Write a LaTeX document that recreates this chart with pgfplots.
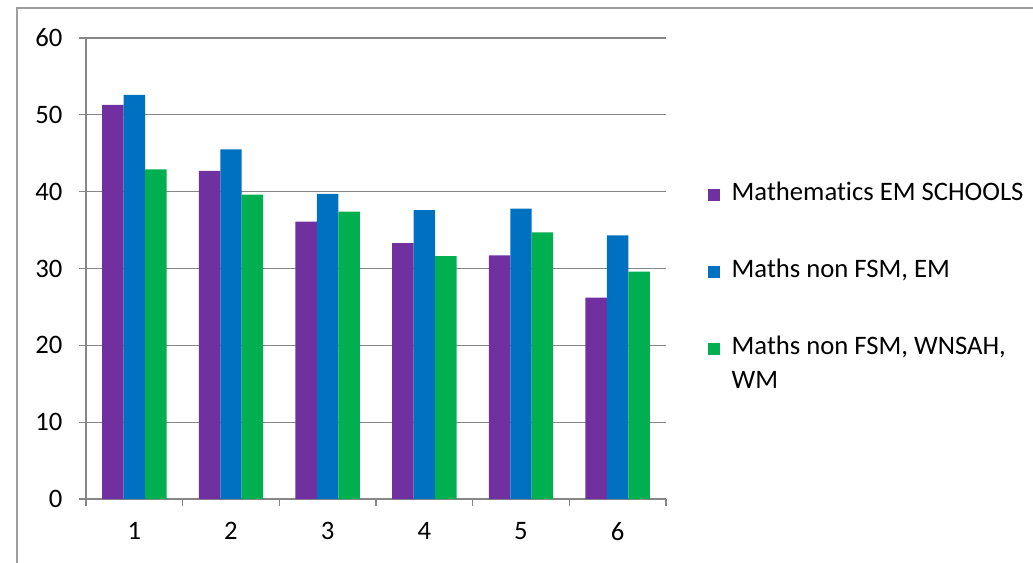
\documentclass[border=0pt]{standalone}
\usepackage{pgfplots}
\pgfplotsset{compat=1.18}
\usepackage{fontspec}
\setmainfont{Carlito}[Ligatures=NoCommon]
\definecolor{cpurple}{HTML}{7030A0}
\definecolor{cblue}{HTML}{0070C0}
\definecolor{cgreen}{HTML}{00B050}
\definecolor{axgray}{HTML}{868686}
\begin{document}
\begin{tikzpicture}
\useasboundingbox (0,0) rectangle (774.75pt,-422.25pt);
\draw[axgray!80, line width=1pt] (12.75pt,-430pt) -- (12.75pt,-6pt) -- (780pt,-6pt);
\begin{axis}[
  at={(64.5pt,-374.25pt)}, anchor=south west,
  scale only axis, width=435pt, height=345.75pt,
  xmin=0.5, xmax=6.5, ymin=0, ymax=60,
  ybar=0pt, bar width=16.1pt,
  xtick={0.5,1.5,...,6.5}, xticklabels={,,,,,,},
  extra x ticks={1,2,3,4,5,6},
  extra x tick labels={1,2,3,4,5,6},
  extra x tick style={major tick length=0pt, tick label style={yshift=-14pt}},
  ytick={0,10,...,60},
  yticklabel style={xshift=-9pt},
  axis lines*=left,
  axis line style={axgray, line width=1pt},
  tick align=outside,
  major tick length=5.25pt,
  tick style={axgray, line width=1pt},
  ymajorgrids, grid style={axgray, line width=1pt},
  tick label style={font=\fontsize{20}{24}\selectfont},
  /pgf/number format/assume math mode=true,
  legend style={at={(1.073,0.7045)}, anchor=north west, draw=none, fill=none,
    inner sep=0pt, outer sep=0pt, row sep=34.5pt, column sep=6.5pt,
    font=\fontsize{20}{25.5}\selectfont,
    cells={anchor=base west, inner sep=0pt}},
  legend image code/.code={\fill[#1] (0pt,0pt) rectangle (9pt,9pt);},
]
\addplot[fill=cpurple, draw=none] coordinates {(1,51.3) (2,42.7) (3,36.1) (4,33.3) (5,31.7) (6,26.2)};
\addlegendentry{\strut Mathematics EM SCHOOLS}
\addplot[fill=cblue, draw=none] coordinates {(1,52.6) (2,45.5) (3,39.7) (4,37.6) (5,37.8) (6,34.3)};
\addlegendentry{\strut Maths non FSM, EM}
\addplot[fill=cgreen, draw=none] coordinates {(1,42.9) (2,39.6) (3,37.4) (4,31.6) (5,34.7) (6,29.6)};
\addlegendentry{\begin{tabular}[t]{@{}l@{}}Maths non FSM, WNSAH,\\WM\end{tabular}}
\end{axis}
\end{tikzpicture}
\end{document}
